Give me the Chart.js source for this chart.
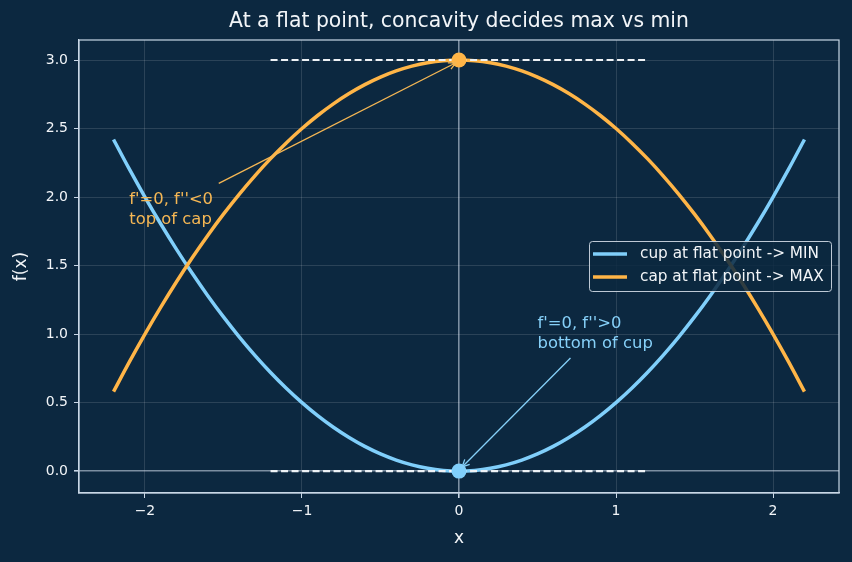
<!DOCTYPE html>
<html><head><meta charset="utf-8">
<script src="https://cdn.jsdelivr.net/npm/chart.js@4.4.1/dist/chart.umd.min.js"></script>
<style>html,body{margin:0;padding:0;background:#0c2840;}#wrap{width:852px;height:562px;}</style>
</head><body><div id="wrap"><canvas id="c" width="852" height="562"></canvas></div>
<script>
const xs = [-2.2,-2.1,-2.0,-1.9,-1.8,-1.7,-1.6,-1.5,-1.4,-1.3,-1.2,-1.1,-1.0,-0.9,-0.8,-0.7,-0.6,-0.5,-0.4,-0.3,-0.2,-0.1,0,0.1,0.2,0.3,0.4,0.5,0.6,0.7,0.8,0.9,1.0,1.1,1.2,1.3,1.4,1.5,1.6,1.7,1.8,1.9,2.0,2.1,2.2];
const cupValues = [2.42,2.205,2.0,1.805,1.62,1.445,1.28,1.125,0.98,0.845,0.72,0.605,0.5,0.405,0.32,0.245,0.18,0.125,0.08,0.045,0.02,0.005,0,0.005,0.02,0.045,0.08,0.125,0.18,0.245,0.32,0.405,0.5,0.605,0.72,0.845,0.98,1.125,1.28,1.445,1.62,1.805,2.0,2.205,2.42];
const capValues = [0.58,0.795,1.0,1.195,1.38,1.555,1.72,1.875,2.02,2.155,2.28,2.395,2.5,2.595,2.68,2.755,2.82,2.875,2.92,2.955,2.98,2.995,3.0,2.995,2.98,2.955,2.92,2.875,2.82,2.755,2.68,2.595,2.5,2.395,2.28,2.155,2.02,1.875,1.72,1.555,1.38,1.195,1.0,0.795,0.58];
const tangentX = [-1.2, 1.2];
const tangentMinY = [0, 0];
const tangentMaxY = [3, 3];
const flatPoints = [{x:0,y:0},{x:0,y:3}];
const xTicks = [-2,-1,0,1,2];
const yTicks = [0,0.5,1.0,1.5,2.0,2.5,3.0];
const seriesNames = ['cup at flat point -> MIN','cap at flat point -> MAX'];
const titleText = 'At a flat point, concavity decides max vs min';
const annotations = [
  {lines:["f'=0, f''<0","top of cap"], tx:-2.1, ty:1.8, tailX:-1.53, tailY:2.10, headX:-0.02, headY:2.98, color:'#f5b754'},
  {lines:["f'=0, f''>0","bottom of cup"], tx:0.5, ty:0.9, tailX:0.71, tailY:0.825, headX:0.02, headY:0.03, color:'#86d0f8'}
];

const BG = '#0c2840', CUP = '#80cffb', CAP = '#ffb547', SPINE = '#c9d7e6', TXT = '#f2f5f8';
const FONT = "'DejaVu Sans', sans-serif";
const zip = (a,b) => a.map((v,i)=>({x:v,y:b[i]}));

const deco = {
  id:'deco',
  beforeDraw(chart){
    const c = chart.ctx; c.save(); c.fillStyle = BG; c.fillRect(0,0,chart.width,chart.height); c.restore();
  },
  afterDatasetsDraw(chart){
    const c = chart.ctx, xs_ = chart.scales.x, ys_ = chart.scales.y;
    c.save();
    annotations.forEach(an=>{
      c.strokeStyle = an.color; c.lineWidth = 1.3;
      const x1 = xs_.getPixelForValue(an.tailX), y1 = ys_.getPixelForValue(an.tailY);
      const x2 = xs_.getPixelForValue(an.headX), y2 = ys_.getPixelForValue(an.headY);
      c.beginPath(); c.moveTo(x1,y1); c.lineTo(x2,y2); c.stroke();
      const ang = Math.atan2(y2-y1, x2-x1), L = 8, w = 0.45;
      c.beginPath();
      c.moveTo(x2 - L*Math.cos(ang-w), y2 - L*Math.sin(ang-w));
      c.lineTo(x2,y2);
      c.lineTo(x2 - L*Math.cos(ang+w), y2 - L*Math.sin(ang+w));
      c.stroke();
      c.fillStyle = an.color; c.font = '16.4px '+FONT; c.textAlign='left'; c.textBaseline='alphabetic';
      const bx = xs_.getPixelForValue(an.tx), by = ys_.getPixelForValue(an.ty);
      const lh = 20;
      an.lines.forEach((t,i)=>{ c.fillText(t, bx, by - (an.lines.length-1-i)*lh); });
    });
    c.restore();
  },
  afterDraw(chart){
    const c = chart.ctx, a = chart.chartArea;
    c.save();
    c.strokeStyle = SPINE; c.lineWidth = 1.2;
    c.strokeRect(a.left, a.top, a.right-a.left, a.bottom-a.top);
    c.fillStyle = TXT; c.textAlign='center'; c.textBaseline='middle';
    c.font = '20.4px '+FONT;
    c.fillText(titleText, (a.left+a.right)/2, 22);
    c.font = '17px '+FONT;
    c.fillText('x', (a.left+a.right)/2, 539);
    c.save(); c.translate(22, (a.top+a.bottom)/2); c.rotate(-Math.PI/2); c.fillText('f(x)',0,0); c.restore();
    const lx = 589, ly = 241, lw = 242, lh = 50;
    c.fillStyle = 'rgba(12,40,64,0.85)'; c.strokeStyle = 'rgba(210,220,230,0.9)'; c.lineWidth = 1;
    c.beginPath(); c.roundRect(lx+0.5, ly+0.5, lw, lh, 3); c.fill(); c.stroke();
    const cols = [CUP, CAP];
    c.font = '15.3px '+FONT; c.textAlign='left'; c.textBaseline='middle';
    seriesNames.forEach((n,i)=>{
      const yy = ly + 13 + i*23;
      c.strokeStyle = cols[i]; c.lineWidth = 3.5;
      c.beginPath(); c.moveTo(lx+4, yy); c.lineTo(lx+38, yy); c.stroke();
      c.fillStyle = TXT; c.fillText(n, lx+51, yy);
    });
    c.restore();
  }
};

new Chart(document.getElementById('c'), {
  type:'scatter',
  data:{ datasets:[
    {label:seriesNames[0], data:zip(xs,cupValues), showLine:true, borderColor:CUP, borderWidth:3.5, pointRadius:0, tension:0.3, order:4},
    {label:seriesNames[1], data:zip(xs,capValues), showLine:true, borderColor:CAP, borderWidth:3.5, pointRadius:0, tension:0.3, order:3},
    {label:'tmin', data:zip(tangentX,tangentMinY), showLine:true, borderColor:'#eef2f6', borderWidth:2.2, borderDash:[7,3.5], pointRadius:0, order:2},
    {label:'tmax', data:zip(tangentX,tangentMaxY), showLine:true, borderColor:'#eef2f6', borderWidth:2.2, borderDash:[7,3.5], pointRadius:0, order:2},
    {label:'pts', data:flatPoints, showLine:false, pointRadius:7.5, pointBackgroundColor:[CUP,CAP], pointBorderWidth:0, order:1}
  ]},
  options:{
    responsive:false, animation:false, devicePixelRatio:1,
    layout:{padding:{top:40,right:13,left:0,bottom:0}},
    plugins:{legend:{display:false}, title:{display:false}, tooltip:{enabled:false}},
    scales:{
      x:{type:'linear', min:-2.42, max:2.42,
        afterBuildTicks(s){ s.ticks = xTicks.map(v=>({value:v})); },
        afterFit(s){ s.height = 69; },
        grid:{color:ctx=>ctx.tick && ctx.tick.value===0 ? 'rgba(200,212,226,0.6)' : 'rgba(255,255,255,0.13)', lineWidth:ctx=>ctx.tick && ctx.tick.value===0 ? 1.6 : 1, tickColor:SPINE, tickLength:5},
        border:{color:SPINE, width:1.2},
        ticks:{color:TXT, font:{family:FONT, size:14}, padding:5, maxRotation:0,
          callback:v=>String(v).replace('-','\u2212')}
      },
      y:{type:'linear', min:-0.16, max:3.146,
        afterBuildTicks(s){ s.ticks = yTicks.map(v=>({value:v})); },
        afterFit(s){ s.width = 79; },
        grid:{color:ctx=>ctx.tick && ctx.tick.value===0 ? 'rgba(200,212,226,0.6)' : 'rgba(255,255,255,0.13)', lineWidth:ctx=>ctx.tick && ctx.tick.value===0 ? 1.6 : 1, tickColor:SPINE, tickLength:5},
        border:{color:SPINE, width:1.2},
        ticks:{color:TXT, font:{family:FONT, size:14}, padding:6,
          callback:v=>v.toFixed(1)}
      }
    }
  },
  plugins:[deco]
});
</script></body></html>
